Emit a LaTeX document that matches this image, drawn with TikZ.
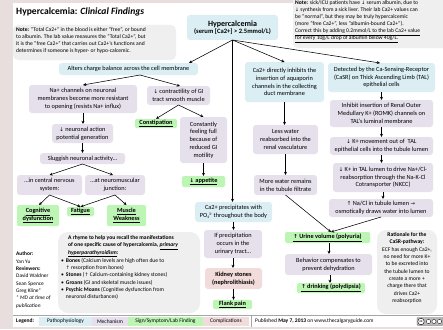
\documentclass[tikz,border=0pt]{standalone}
\usepackage{fontspec}
\usepackage{graphicx}
\setmainfont{Carlito}
\newfontfamily\symf{DejaVu Sans}
\usetikzlibrary{arrows.meta}

\definecolor{pblue}{HTML}{DAEEF3}
\definecolor{plav}{HTML}{E5E0EC}
\definecolor{pgreen}{HTML}{BDF5B5}
\definecolor{ppink}{HTML}{F2DCDB}
\definecolor{pgray}{HTML}{EFEFEF}
\definecolor{bgpink}{HTML}{E9DEDE}

% font sizes
\newcommand\fb{\fontsize{6.3}{7.8}\selectfont}
\newcommand\fn{\fontsize{5.6}{7}\selectfont}
\newcommand\fr{\fontsize{5.6}{7.3}\selectfont}
\newcommand\fl{\fontsize{5.5}{6.5}\selectfont}
\newcommand\ftitle{\fontsize{9.6}{11}\selectfont}

% arrows set in DejaVu Sans
\newcommand\uarr{{\symf\scalebox{0.85}{↑}}}
\newcommand\darr{{\symf\scalebox{0.85}{↓}}}
\newcommand\rarr{{\symf\scalebox{0.85}{→}}}
% phosphate ion with index and charge
\newcommand\phosph{PO\raisebox{-1.1pt}{\scalebox{0.6}{4}}\raisebox{1.8pt}{\scalebox{0.6}{3-}}}

% box from x1 to x2 and y1 to y2
\newcommand\bx[7]{\node[#2, minimum width={(#4-#3)*1pt}, minimum height={(#6-#5)*1pt}] (#1) at ({(#3+#4)/2},{(#5+#6)/2}) {#7};}

\tikzset{
  base/.style={rounded corners=3pt, inner sep=1pt, outer sep=0pt, align=center, font=\fb},
  patho/.style={base, fill=pblue},
  mech/.style={base, fill=plav},
  sign/.style={base, rounded corners=1.5pt, fill=pgreen, font=\fb\bfseries},
  comp/.style={base, fill=ppink, font=\fb\bfseries},
  legcell/.style={inner sep=0pt, outer sep=0pt, font=\fl},
  arr/.style={-{Stealth[length=3.2pt,width=3pt]}, line width=0.55pt},
}

\begin{document}
\begin{tikzpicture}[x=1pt, y=-1pt]
\useasboundingbox (0,0) rectangle (443,329);
\fill[bgpink] (0,0) rectangle (443,329);
\fill[white] (13,3) rectangle (443,327);

% title and notes
\node[anchor=west, font=\ftitle, inner sep=0pt] (title) at (16,12)
  {\textbf{Hypercalcemia:} \textbf{\textit{Clinical Findings}}};

\fill[pgray, rounded corners=5pt] (13,25) rectangle (176,60);
\node[anchor=north west, align=left, font=\fn, inner sep=0pt] (noteL) at (16,27.5)
  {\textbf{Note:} “Total Ca2+” in the blood is either “free”, or bound\\
   to albumin. The lab value measures the “Total Ca2+”, but\\
   it is the “free Ca2+” that carries out Ca2+’s functions and\\
   determines if someone is hyper- or hypo-calcemic.};

\fill[pgray, rounded corners=5pt] (293,-8) rectangle (450,48);
\node[anchor=north west, align=left, font=\fn, inner sep=0pt] (noteR) at (295,0.8)
  {\textbf{Note:} sick/ICU patients have \darr\ serum albumin, due to\\
   \darr\ synthesis from a sick liver. Their lab Ca2+ values can\\
   be “normal”, but they may be truly hypercalcemic\\
   (more “free Ca2+”, less “albumin-bound Ca2+”).\\
   \underline{Correct this by adding 0.2mmol/L to the lab Ca2+ value}\\
   \underline{for every 10g/L drop of albumin below 40g/L.}};

% root
\bx{hyp}{patho}{187}{278}{15}{40}{\fontsize{8}{9}\selectfont\bfseries Hypercalcemia\\[-0.5pt]\fontsize{6.6}{8}\selectfont\bfseries (serum [Ca2+] > 2.5mmol/L)}

% neuronal and GI branch
\bx{alters}{patho}{59}{198}{63}{75}{Alters charge balance across the cell membrane}
\bx{na}{mech}{29}{137}{85}{113}{Na+ channels on neuronal\\membranes become more resistant\\to opening (resists Na+ influx)}
\bx{gi}{mech}{147}{210}{86}{105}{\darr\ contractility of GI\\tract smooth muscle}
\bx{constip}{sign}{135}{177}{119}{128}{\underline{Constipation}}
\bx{full}{mech}{180}{227}{117}{163}{Constantly\\feeling full\\because of\\reduced GI\\motility}
\bx{appetite}{sign}{182}{225}{176}{187}{\underline{\darr\ appetite}}
\bx{neur}{mech}{52}{113}{124}{143}{\darr\ neuronal action\\potential generation}
\bx{slug}{mech}{40}{125}{153}{164}{Sluggish neuronal activity…}
\bx{cns}{mech}{17}{82}{175}{195}{…in central nervous\\system:}
\bx{nmj}{mech}{85}{145}{175}{195}{…at neuromuscular\\junction:}
\bx{cog}{sign}{17}{59}{205}{226}{\underline{Cognitive}\\\underline{dysfunction}}
\bx{fat}{sign}{67}{94}{207}{216}{\underline{Fatigue}}
\bx{musc}{sign}{107}{146}{205}{226}{\underline{Muscle}\\\underline{Weakness}}

% precipitation branch
\bx{precip}{patho}{195}{272}{202}{222}{Ca2+ precipitates with\\\phosph\ throughout the body}
\bx{ifprec}{mech}{204}{262}{230}{258}{If precipitation\\occurs in the\\urinary tract…}
\bx{stones}{comp}{205}{262}{268}{289}{Kidney stones\\(nephrolithiasis)}
\bx{flank}{sign}{213}{252}{300}{309}{\underline{Flank pain}}

% aquaporin branch
\bx{aqua}{patho}{245}{324}{62}{102}{Ca2+ directly inhibits the\\insertion of aquaporin\\channels in the collecting\\duct membrane}
\bx{less}{mech}{253}{318}{125}{154}{Less water\\reabsorbed into the\\renal vasculature}
\bx{more}{mech}{254}{317}{175}{195}{More water remains\\in the tubule filtrate}
\bx{urine}{sign}{285}{370}{232}{243}{\underline{\uarr\ Urine volume (polyuria)}}
\bx{behav}{mech}{285}{372}{254}{275}{Behavior compensates to\\prevent dehydration}
\bx{drink}{sign}{297}{365}{283}{293}{\underline{\uarr\ drinking (polydipsia)}}

% CaSR branch
\bx{casr}{patho}{328}{435}{63}{92}{Detected by the Ca-Sensing-Receptor\\(CaSR) on Thick Ascending Limb (TAL)\\epithelial cells}
\bx{romk}{mech}{330}{433}{100}{127}{Inhibit insertion of Renal Outer\\Medullary K+ (ROMK) channels on\\TAL’s luminal membrane}
\bx{kmove}{mech}{330}{433}{137}{155}{\darr\ K+ movement out of\ \ TAL\\epithelial cells into the tubule lumen}
\bx{nkcc}{mech}{333}{433}{163}{192}{\darr\ K+ in TAL lumen to drive Na+/Cl-\\reabsorption through the Na-K-Cl\\Cotransporter (NKCC)}
\bx{nacl}{mech}{329}{433}{199}{217}{\uarr\ Na/Cl in tubule lumen \rarr\\osmotically draws water into lumen}

% rationale
\fill[pgray, rounded corners=9pt] (377,230) rectangle (437,314);
\node[anchor=north, align=center, font=\fr, inner sep=0pt] (rat) at (407,232.5)
  {\textbf{Rationale for the}\\\textbf{CaSR-pathway:}\\
   ECF has enough Ca2+,\\no need for more K+\\to be excreted into\\the tubule lumen to\\
   create a more +\\charge there that\\drives Ca2+\\reabsorption};

% mnemonic
\fill[pgray, rounded corners=10pt] (58,232) rectangle (200,313);
\node[anchor=north west, align=left, font=\fr, inner sep=0pt] (rhyme) at (61,235.5)
  {\hspace*{7pt}\textbf{A rhyme to help you recall the manifestations}\\
   \hspace*{7pt}\textbf{of one specific cause of hypercalcemia, \underline{\textit{primary}}}\\
   \hspace*{7pt}\textbf{\underline{\textit{hyperparathyroidism}}:}\\[0.6pt]
   •\hspace{2pt}\textbf{Bones} (Calcium levels are high often due to\\
   \hspace*{4.6pt}\uarr\ resorption from bones)\\
   •\hspace{2pt}\textbf{Stones} (\uarr\ Calcium-containing kidney stones)\\
   •\hspace{2pt}\textbf{Groans} (GI and skeletal muscle issues)\\
   •\hspace{2pt}\textbf{Psychic Moans} (Cognitive dysfunction from\\
   \hspace*{4.6pt}neuronal disturbances)};

% credits
\node[anchor=north west, align=left, font=\fontsize{5.4}{7.3}\selectfont, inner sep=0pt] (credits) at (16,252)
  {\textbf{Author:}\\Yan Yu\\\textbf{Reviewers:}\\David Waldner\\Sean Spence\\Greg Kline*\\
   \textit{* MD at time of}\\\textit{publication}};

% legend bar
\draw[gray!70, line width=0.4pt] (13,315.5) -- (443,315.5);
\node[anchor=west, font=\fl\bfseries, inner sep=0pt] (legend) at (16,321.5) {Legend:};
\bx{lg1}{legcell, fill=pblue}{39}{92}{317}{326}{Pathophysiology}
\bx{lg2}{legcell, fill=plav}{92}{128}{317}{326}{Mechanism}
\bx{lg3}{legcell, fill=pgreen}{128}{203}{317}{326}{Sign/Symptom/Lab Finding}
\bx{lg4}{legcell, fill=ppink}{203}{249}{317}{326}{Complications}
\draw[gray!70, line width=0.4pt] (251,316) -- (251,327);
\node[anchor=west, font=\fl, inner sep=0pt] (pub) at (255,321.5)
  {Published \textbf{May 7, 2013} on www.thecalgaryguide.com};
\node[fill=gray!55, draw=gray!80!black, line width=0.3pt, rounded corners=0.8pt, minimum width=26pt, minimum height=8pt, inner sep=0pt] (ccbadge) at (430,321.5) {};
\node[circle, fill=white, draw=black, line width=0.4pt, inner sep=0pt, minimum size=6.5pt, font=\fontsize{3.5}{4}\selectfont\bfseries] (cclogo) at (421,321.5) {cc};
\foreach \i/\xx in {1/428.5,2/434,3/439.5}
  \node[circle, fill=white, draw=black, line width=0.3pt, inner sep=0pt, minimum size=4.2pt] (ccicon\i) at (\xx,321.5) {};

% connectors
\draw[arr] (hyp.south) -- ([xshift=60.5pt]alters.north);
\draw[arr] (hyp.south) -- (aqua.north);
\draw[arr] (hyp.south) -- (hyp.south |- precip.north);
\draw[arr] (hyp.south) -- ([xshift=-1.5pt]casr.north);

\draw[arr] ([xshift=11.5pt]alters.south) -- (na.north);
\draw[arr] ([xshift=11.5pt]alters.south) -- ([xshift=1.5pt]gi.north);
\draw[arr] (gi.south) -- (constip.north);
\draw[arr] (gi.south) -- (full.north);
\draw[arr] (full.south) -- (appetite.north);
\draw[arr] (na.south) -- (na.south |- neur.north);
\draw[arr] (neur.south) -- (neur.south |- slug.north);
\draw[arr] (slug.south) -- (cns.north);
\draw[arr] (slug.south) -- ([xshift=-2pt]nmj.north);
\draw[arr] (cns.south) -- ([xshift=1pt]cog.north);
\draw[arr] (cns.south) -- (fat.north);
\draw[arr] (nmj.south) -- (fat.north);
\draw[arr] (nmj.south) -- (musc.north);

\draw[arr] (precip.south) -- (precip.south |- ifprec.north);
\draw[arr] (ifprec.south) -- (ifprec.south |- stones.north);
\draw[arr] (stones.south) -- (stones.south |- flank.north);

\draw[arr] (aqua.south) -- (aqua.south |- less.north);
\draw[arr] (less.south) -- (less.south |- more.north);
\draw[arr] (more.south) -- ([xshift=3.5pt]urine.north);
\draw[arr] (nacl.south) -- ([xshift=3.5pt]urine.north);
\draw[arr] ([xshift=1.5pt]urine.south) -- ([xshift=1.5pt]urine.south |- behav.north);
\draw[arr] ([xshift=1.5pt]behav.south) -- ([xshift=1.5pt]behav.south |- drink.north);

\draw[arr] (casr.south) -- (casr.south |- romk.north);
\draw[arr] (romk.south) -- (romk.south |- kmove.north);
\draw[arr] (kmove.south) -- (kmove.south |- nkcc.north);
\draw[arr] (nkcc.south) -- (nkcc.south |- nacl.north);
\end{tikzpicture}
\end{document}
